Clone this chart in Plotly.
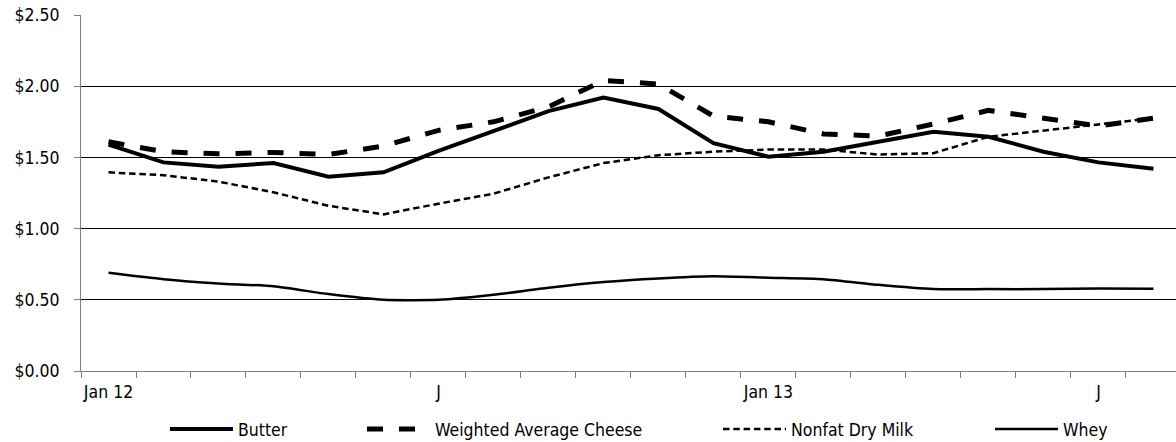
import plotly.graph_objects as go

months = ["Jan 12", "Feb 12", "Mar 12", "Apr 12", "May 12", "Jun 12", "Jul 12", "Aug 12",
          "Sep 12", "Oct 12", "Nov 12", "Dec 12", "Jan 13", "Feb 13", "Mar 13", "Apr 13",
          "May 13", "Jun 13", "Jul 13", "Aug 13"]
month_labels = ["Jan 12", "", "", "", "", "", "J", "", "", "", "", "",
                "Jan 13", "", "", "", "", "", "J", ""]

butter = [1.59, 1.465, 1.435, 1.46, 1.365, 1.395, 1.545, 1.685, 1.825, 1.92,
          1.84, 1.60, 1.505, 1.54, 1.61, 1.68, 1.645, 1.54, 1.465, 1.42]
cheese = [1.61, 1.54, 1.525, 1.535, 1.52, 1.58, 1.69, 1.75, 1.855, 2.04,
          2.015, 1.79, 1.75, 1.665, 1.65, 1.735, 1.83, 1.775, 1.72, 1.775]
nonfat_dry_milk = [1.395, 1.375, 1.33, 1.255, 1.16, 1.10, 1.175, 1.245, 1.36, 1.46,
                   1.515, 1.54, 1.555, 1.555, 1.52, 1.53, 1.645, 1.69, 1.73, 1.775]
whey = [0.69, 0.645, 0.615, 0.595, 0.54, 0.50, 0.50, 0.535, 0.585, 0.625,
        0.65, 0.665, 0.655, 0.645, 0.605, 0.575, 0.575, 0.575, 0.58, 0.578]

y_ticks = [0, 0.5, 1.0, 1.5, 2.0, 2.5]
y_labels = ["$0.00", "$0.50", "$1.00", "$1.50", "$2.00", "$2.50"]

FONT = "DejaVu Sans Condensed, DejaVu Sans, sans-serif"
FS = 17.5

fig = go.Figure()
fig.add_trace(go.Scatter(x=months, y=butter, name="Butter", mode="lines",
                         line=dict(color="black", width=4), legend="legend"))
fig.add_trace(go.Scatter(x=months, y=cheese, name="Weighted Average Cheese", mode="lines",
                         line=dict(color="black", width=5, dash="16px,16px"), legend="legend2"))
fig.add_trace(go.Scatter(x=months, y=nonfat_dry_milk, name="Nonfat Dry Milk", mode="lines",
                         line=dict(color="black", width=2.5, dash="6.5px,3.8px"), legend="legend3"))
fig.add_trace(go.Scatter(x=months, y=whey, name="Whey", mode="lines",
                         line=dict(color="black", width=2.5, shape="spline", smoothing=0.6),
                         legend="legend4"))

W_PLOT = 1176 - 81
leg_common = dict(orientation="h", yanchor="middle", y=(371 - 429) / 356, xanchor="left",
                  itemwidth=63, bgcolor="rgba(0,0,0,0)",
                  font=dict(family=FONT, size=FS, color="black"))
fig.update_layout(
    width=1176, height=442,
    margin=dict(l=81, r=0, t=15, b=71, autoexpand=False),
    paper_bgcolor="white", plot_bgcolor="white",
    font=dict(family=FONT, size=FS, color="black"),
    showlegend=True,
    legend=dict(x=(165 - 81) / W_PLOT, **leg_common),
    legend2=dict(x=(362 - 81) / W_PLOT, **leg_common),
    legend3=dict(x=(718 - 81) / W_PLOT, **leg_common),
    legend4=dict(x=(990 - 81) / W_PLOT, **leg_common),
    xaxis=dict(type="category", categoryorder="array", categoryarray=months,
               range=[-0.5, 19.41], tickson="boundaries",
               tickvals=months, ticktext=month_labels, tickangle=0,
               ticks="outside", ticklen=6, tickcolor="#808080",
               ticklabelstandoff=5,
               showline=True, linecolor="#808080", linewidth=1,
               showgrid=False, zeroline=False, automargin=False),
    yaxis=dict(range=[0, 2.5], tickvals=y_ticks, ticktext=y_labels,
               ticks="outside", ticklen=6, tickcolor="#808080",
               ticklabelstandoff=11,
               showline=True, linecolor="#808080", linewidth=1,
               showgrid=True, gridcolor="black", gridwidth=1, zeroline=False,
               automargin=False),
)

fig.write_html("out.html",
               config={"displayModeBar": False},
               post_script="document.body.style.margin='0';document.body.style.overflow='hidden';")
